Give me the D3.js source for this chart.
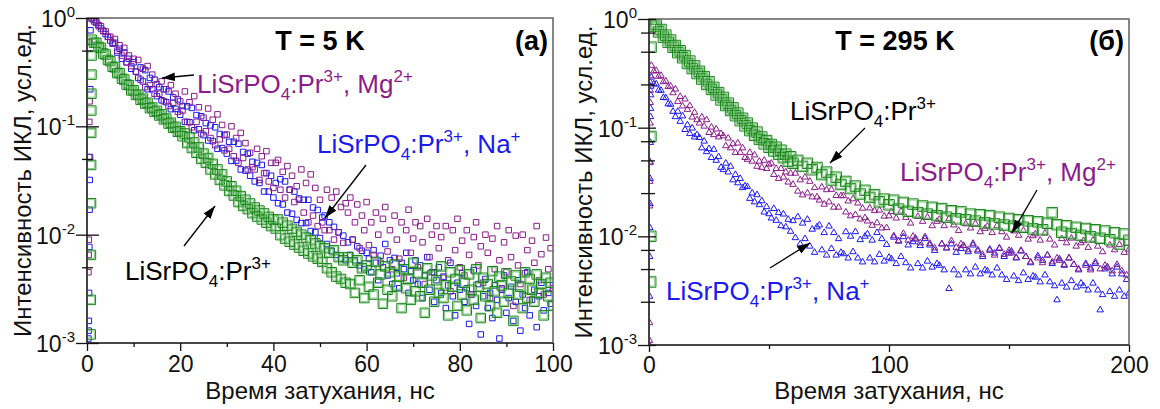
<!DOCTYPE html>
<html><head><meta charset="utf-8">
<script src="https://cdn.jsdelivr.net/npm/d3@7"></script>
<style>body{margin:0;background:#fff}svg{display:block}text{font-family:"Liberation Sans",Arial,sans-serif}</style>
</head><body>
<svg id="c" width="1160" height="409"></svg>
<script>
// ---------------- DATA ----------------
// sample start times and channel widths (ns)
const start5K = 1, step5K = 0.5;               // all series at 5 K
const start295Fine = 1, step295Fine = 1;       // Na+, Mg2+ at 295 K
const start295Early = 1, step295Early = 1;     // undoped at 295 K, 1-60 ns
const start295Late = 62, step295Late = 2;      // undoped at 295 K, 62-200 ns

// T = 5 K
const mg5K = [
0.98,0.93,0.93,0.84,0.84,0.76,0.75,0.67,0.67,0.59,
0.64,0.5,0.56,0.45,0.53,0.39,0.45,0.36,0.42,0.32,
0.41,0.27,0.34,0.23,0.36,0.24,0.3,0.2,0.245,0.2,
0.26,0.17,0.22,0.154,0.24,0.165,0.2,0.136,0.17,0.14,
0.21,0.11,0.167,0.098,0.19,0.11,0.15,0.086,0.12,0.09,
0.146,0.078,0.115,0.067,0.129,0.076,0.103,0.06,0.084,0.062,
0.1,0.053,0.078,0.046,0.087,0.051,0.07,0.04,0.057,0.042,
0.04,0.062,0.032,0.053,0.037,0.059,0.031,0.046,0.027,0.046,
0.049,0.026,0.038,0.022,0.043,0.026,0.035,0.02,0.028,0.021,
0.04,0.016,0.03,0.013,0.036,0.015,0.027,0.012,0.021,0.013,
0.011,0.026,0.011,0.022,0.009,0.025,0.0105,0.018,0.0084,0.0195,
0.016,0.022,0.009,0.013,0.019,0.0075,0.015,0.011,0.02,0.008,
0.013,0.0065,0.016,0.01,0.0055,0.014,0.018,0.007,0.011,0.0048,
0.015,0.009,0.006,0.013,0.004,0.011,0.017,0.0068,0.0092,0.013,
0.005,0.012,0.0085,0.0035,0.014,0.0062,0.01,0.0045,0.012,0.0075,
0.0095,0.004,0.012,0.0058,0.003,0.011,0.0072,0.014,0.005,0.0088,
0.0042,0.011,0.0065,0.0028,0.0095,0.013,0.0052,0.0078,0.0036,0.01,
0.0068,0.0026,0.0092,0.0048,0.012,0.0058,0.0032,0.0085,0.0045,0.011,
0.0062,0.0022,0.0098,0.0052,0.0035,0.01,0.0044,0.0072,0.0025,0.0088,
0.0055,0.012,0.0038,0.0066,0.0028,0.0094,0.0048,0.0075,0.0032];
const na5K = [
1.0,0.96,0.9,0.86,0.8,0.76,0.71,0.67,0.62,0.58,
0.59,0.48,0.52,0.42,0.48,0.39,0.42,0.34,0.39,0.32,
0.28,0.35,0.26,0.33,0.22,0.28,0.22,0.27,0.19,0.23,
0.174,0.22,0.167,0.21,0.144,0.185,0.145,0.177,0.128,0.154,
0.11,0.153,0.109,0.148,0.092,0.127,0.094,0.124,0.083,0.107,
0.074,0.102,0.073,0.098,0.062,0.085,0.063,0.083,0.056,0.072,
0.048,0.072,0.048,0.069,0.04,0.058,0.039,0.056,0.035,0.047,
0.031,0.046,0.03,0.044,0.025,0.037,0.025,0.035,0.022,0.03,
0.0195,0.0325,0.019,0.031,0.016,0.026,0.0156,0.025,0.0137,0.0216,
0.0128,0.021,0.0128,0.021,0.0108,0.0178,0.0105,0.0169,0.0093,0.0144,
0.015,0.0082,0.013,0.0071,0.0118,0.0065,0.0105,0.006,0.0098,0.0058,
0.0085,0.0065,0.009,0.0058,0.0078,0.0052,0.0071,0.0048,0.0068,0.006,
0.0045,0.0072,0.0055,0.0038,0.0064,0.005,0.0082,0.0042,0.0058,0.0035,
0.0061,0.0044,0.0032,0.0055,0.0048,0.0068,0.0029,0.0046,0.0038,0.0058,
0.0035,0.0052,0.0026,0.0042,0.0062,0.0031,0.0045,0.0024,0.0038,0.005,
0.0029,0.0041,0.0021,0.0034,0.0055,0.0027,0.0018,0.0036,0.0031,0.0044,
0.0024,0.0032,0.0015,0.0028,0.0047,0.0022,0.0035,0.0012,0.0027,0.0039,
0.0021,0.0029,0.0017,0.0034,0.0025,0.0011,0.0031,0.0042,0.0019,0.0026,
0.0033,0.0016,0.0024,0.0038,0.0013,0.0028,0.0021,0.0045,0.0018,0.0025,
0.0031,0.0014,0.0027,0.0036,0.002,0.0009,0.0029,0.0023,0.0034];
const pr5K = [
0.63,0.59,0.59,0.54,0.53,0.47,0.46,0.41,0.4,0.355,
0.35,0.31,0.31,0.275,0.27,0.243,0.24,0.215,0.215,0.195,
0.196,0.176,0.18,0.162,0.165,0.147,0.149,0.136,0.139,0.126,
0.129,0.116,0.118,0.106,0.108,0.097,0.099,0.089,0.09,0.081,
0.086,0.07,0.079,0.063,0.071,0.057,0.064,0.05,0.056,0.046,
0.051,0.04,0.045,0.036,0.04,0.032,0.036,0.0285,0.031,0.0253,
0.028,0.023,0.0254,0.02,0.0227,0.0184,0.021,0.0172,0.0194,0.0158,
0.0178,0.0147,0.0167,0.0138,0.0157,0.0129,0.0146,0.012,0.0138,0.0114,
0.0138,0.0099,0.0129,0.0092,0.0121,0.0086,0.0113,0.0081,0.0106,0.0076,
0.01,0.0071,0.0094,0.0067,0.0089,0.0063,0.0083,0.006,0.0078,0.0056,
0.0075,0.0049,0.0068,0.0045,0.0072,0.0041,0.0062,0.0039,0.0058,0.0036,
0.0062,0.0035,0.0055,0.0029,0.0058,0.0038,0.0049,0.0026,0.0052,0.0033,
0.0047,0.0028,0.0056,0.0036,0.0043,0.0023,0.0051,0.0031,0.0045,0.0027,
0.0053,0.0034,0.0041,0.0021,0.0048,0.0032,0.0039,0.0025,0.0055,0.003,
0.0044,0.0027,0.0036,0.0019,0.0049,0.0031,0.0042,0.0024,0.0038,0.0029,
0.0051,0.0026,0.0034,0.0018,0.0045,0.0033,0.0039,0.0022,0.0047,0.0028,
0.0036,0.002,0.0043,0.0031,0.0025,0.0048,0.0033,0.0017,0.004,0.0027,
0.0035,0.0022,0.0046,0.003,0.0019,0.0041,0.0034,0.0024,0.0044,0.0029,
0.0037,0.0016,0.0042,0.0028,0.0033,0.0021,0.0045,0.0026,0.0039,0.0031,
0.0024,0.0043,0.0029,0.0035,0.0018,0.004,0.0027,0.0036,0.0022];
// rising edge points at 5 K
const riseTimeNa5K = [0.3,0.35,0.4,0.45,0.5,0.55,0.6,0.65,0.7,0.75];
const riseNa5K     = [0.0011,0.0013,0.0016,0.0029,0.0077,0.017,0.032,0.052,0.22,0.77];
const riseTimeMg5K = [0.3,0.35,0.4,0.45,0.5,0.55,0.6];
const riseMg5K     = [0.0045,0.0065,0.009,0.052,0.11,0.17,0.6];
const riseTimePr5K = [0.8,0.82,0.84,0.86,0.88,0.9,0.92,0.94,0.96,0.98];
const risePr5K     = [0.0012,0.0025,0.0065,0.0195,0.044,0.087,0.14,0.2,0.3,0.45];

// T = 295 K
const mg295K = [
0.374,0.331,0.335,0.296,0.302,0.264,0.268,0.238,0.241,0.209,
0.226,0.174,0.193,0.158,0.183,0.147,0.159,0.125,0.138,0.118,
0.11,0.125,0.103,0.118,0.09,0.101,0.086,0.097,0.082,0.088,
0.084,0.068,0.08,0.065,0.071,0.059,0.072,0.059,0.065,0.053,
0.051,0.059,0.049,0.056,0.044,0.049,0.043,0.05,0.042,0.046,
0.047,0.037,0.042,0.034,0.042,0.035,0.039,0.0315,0.038,0.03,
0.038,0.026,0.033,0.024,0.035,0.025,0.032,0.023,0.028,0.023,
0.0215,0.0284,0.0197,0.0268,0.0207,0.027,0.0185,0.0237,0.0185,0.0236,
0.0236,0.0167,0.0211,0.0154,0.0221,0.0158,0.0202,0.0144,0.0181,0.0148,
0.0138,0.0182,0.0126,0.0172,0.0133,0.0174,0.0119,0.0153,0.012,0.0154,
0.0169,0.0101,0.0147,0.0091,0.017,0.0106,0.0149,0.0092,0.0132,0.01,
0.0096,0.0152,0.0087,0.0137,0.0099,0.015,0.0086,0.0125,0.0078,0.0137,
0.0143,0.0085,0.0125,0.0078,0.0145,0.0091,0.0127,0.0079,0.0113,0.0085,
0.0082,0.013,0.0075,0.0119,0.0086,0.0131,0.0075,0.011,0.0068,0.0118,
0.0124,0.0074,0.0108,0.0067,0.0125,0.0078,0.011,0.0068,0.0098,0.0074,
0.007,0.0112,0.0064,0.0102,0.0074,0.0113,0.0065,0.0094,0.0058,0.0101,
0.0105,0.0063,0.0092,0.0057,0.0107,0.0067,0.0094,0.0058,0.0083,0.0063,
0.006,0.0095,0.0055,0.0087,0.0063,0.0096,0.0055,0.0081,0.005,0.0087,
0.0091,0.0054,0.0079,0.0049,0.0092,0.0058,0.0081,0.005,0.0072,0.0054,
0.0052,0.0083,0.0048,0.0075,0.0055,0.0084,0.0048,0.0071,0.0044,0.0076];
const na295K = [
0.291,0.252,0.252,0.221,0.22,0.189,0.188,0.165,0.164,0.141,
0.126,0.141,0.114,0.128,0.096,0.106,0.088,0.099,0.082,0.086,
0.081,0.065,0.075,0.06,0.064,0.053,0.063,0.05,0.054,0.043,
0.041,0.047,0.039,0.044,0.033,0.037,0.031,0.034,0.028,0.029,
0.0286,0.0223,0.025,0.0207,0.0241,0.0195,0.0212,0.0167,0.0187,0.0161,
0.0147,0.018,0.014,0.0165,0.0125,0.016,0.0122,0.0143,0.0111,0.0139,
0.0097,0.0151,0.0085,0.0132,0.0095,0.0143,0.0081,0.0116,0.0071,0.0122,
0.0127,0.0075,0.0108,0.0067,0.0124,0.0077,0.0108,0.0067,0.0095,0.0071,
0.0069,0.011,0.0063,0.01,0.0072,0.011,0.0063,0.0093,0.0058,0.01,
0.0105,0.0063,0.0092,0.0058,0.0108,0.0068,0.0095,0.0059,0.0084,0.0064,
0.0062,0.0098,0.0056,0.009,0.0065,0.0099,0.0057,0.0083,0.0051,0.0089,
0.0094,0.0056,0.0082,0.0051,0.0095,0.0059,0.0083,0.0052,0.0074,0.0056,
0.0054,0.0085,0.0049,0.0078,0.0033,0.0085,0.0049,0.0071,0.0044,0.0077,
0.0082,0.0049,0.0072,0.0045,0.0083,0.0052,0.0073,0.0045,0.0065,0.0049,
0.0048,0.0076,0.0044,0.007,0.0051,0.0077,0.0044,0.0065,0.004,0.007,
0.0073,0.0043,0.0063,0.0039,0.0073,0.0046,0.0065,0.004,0.0057,0.0043,
0.0042,0.0066,0.0038,0.006,0.0044,0.0067,0.0038,0.0056,0.0035,0.0026,
0.0062,0.0037,0.0054,0.0034,0.0063,0.0039,0.0055,0.0034,0.0049,0.0037,
0.0035,0.0056,0.0032,0.0051,0.0037,0.0056,0.0032,0.0021,0.0029,0.005,
0.0052,0.0031,0.0045,0.0028,0.0052,0.0032,0.0045,0.0028,0.004,0.003];
const pr295KEarly = [
1.0,0.86,0.89,0.76,0.8,0.68,0.71,0.61,0.64,0.55,
0.57,0.49,0.51,0.44,0.46,0.39,0.41,0.35,0.37,0.315,
0.33,0.28,0.295,0.25,0.265,0.225,0.235,0.2,0.21,0.18,
0.19,0.16,0.168,0.144,0.152,0.129,0.136,0.116,0.122,0.104,
0.11,0.094,0.099,0.085,0.091,0.078,0.082,0.071,0.076,0.066,
0.07,0.061,0.066,0.057,0.062,0.053,0.057,0.049,0.054,0.047];
const pr295KLate = [
0.05,0.044,0.047,0.041,0.043,0.037,0.039,0.033,0.035,0.03,
0.032,0.0275,0.029,0.0245,0.0265,0.0228,0.0242,0.0208,0.022,0.0195,
0.0215,0.0178,0.0205,0.017,0.0198,0.0165,0.019,0.016,0.0185,0.0155,
0.018,0.015,0.0172,0.0145,0.0168,0.0142,0.016,0.0138,0.0158,0.0133,
0.0155,0.013,0.015,0.0127,0.0146,0.0124,0.0142,0.0121,0.0139,0.0117,
0.0136,0.0115,0.0132,0.0165,0.0128,0.0109,0.0125,0.0106,0.0121,0.0102,
0.0118,0.0099,0.0115,0.0096,0.0112,0.0093,0.0108,0.0085,0.0105,0.0092];
// rising edge points at 295 K
const riseTimeNa295K = [0.2,0.25,0.3,0.35,0.4,0.45,0.5,0.55,0.6,0.65,0.7,0.75];
const riseNa295K     = [0.001,0.0028,0.0065,0.012,0.02,0.034,0.048,0.073,0.126,0.15,0.2,0.24];
const riseTimeMg295K = [0.2,0.25,0.3,0.35,0.4,0.45,0.5,0.55,0.6,0.65];
const riseMg295K     = [0.0011,0.0016,0.019,0.032,0.048,0.11,0.17,0.22,0.26,0.3];
const riseTimePr295K = [0.7,0.75,0.8,0.85];
const risePr295K     = [0.0038,0.01,0.083,0.55];

// ticks
const yMajor = [1, 0.1, 0.01, 0.001];
const yMajorExp = ["0", "-1", "-2", "-3"];
const yMinor5K = [0.5, 0.05, 0.005];
const yMinor295K = [0.75, 0.5, 0.25, 0.075, 0.05, 0.025, 0.0075, 0.005, 0.0025];
const xMajor5K = [0, 20, 40, 60, 80, 100];
const xMinor5K = [10, 30, 50, 70, 90];
const xMajor295K = [0, 100, 200];
const xMinor295K = [50, 150];

// ---------------- DRAWING ----------------
const svg = d3.select('#c');
const C = { na: '#1a1aee', mg: '#8b1c8b', prDark: '#188418', prLight: '#62bd62' };

const defs = svg.append('defs');
defs.append('marker').attr('id', 'ah').attr('viewBox', '0 0 12 8').attr('refX', 12).attr('refY', 4)
  .attr('markerWidth', 13).attr('markerHeight', 9).attr('markerUnits', 'userSpaceOnUse').attr('orient', 'auto')
  .append('path').attr('d', 'M0,0 L12,4 L0,8 z').attr('fill', '#000');

const series = (start, step, vals) => vals.map((v, i) => ({ t: start + i * step, v }));
const pairs = (ts, vals) => vals.map((v, i) => ({ t: ts[i], v }));

function panel(cfg) {
  const g = svg.append('g');
  const x = d3.scaleLinear().domain(cfg.xDomain).range([cfg.x0, cfg.x1]);
  const y = d3.scaleLog().domain([1e-3, 1]).range([cfg.y1, cfg.y0]);
  const clipId = 'clip' + cfg.id;
  defs.append('clipPath').attr('id', clipId).append('rect')
    .attr('x', cfg.x0).attr('y', cfg.y0).attr('width', cfg.x1 - cfg.x0).attr('height', cfg.y1 - cfg.y0);
  const plot = g.append('g').attr('clip-path', `url(#${clipId})`);

  cfg.layers.forEach(L => {
    const pts = L.data.filter(d => d.v > 0);
    const sym = d3.symbol().type(L.shape === 'tri' ? d3.symbolTriangle : d3.symbolSquare)
      .size(L.shape === 'tri' ? L.size * L.size * Math.sqrt(3) / 4 : L.size * L.size);
    const gg = plot.append('g');
    pts.forEach(d => {
      const tr = `translate(${x(d.t)},${y(d.v)})`;
      gg.append('path').attr('d', sym).attr('transform', tr)
        .attr('fill', 'none').attr('stroke', L.color).attr('stroke-width', L.sw || 1);
      if (L.inner) {
        gg.append('path').attr('d', d3.symbol().type(d3.symbolSquare).size((L.size - 2.4) * (L.size - 2.4)))
          .attr('transform', tr).attr('fill', 'none').attr('stroke', L.inner).attr('stroke-width', 0.8);
      }
    });
  });

  // frame
  g.append('rect').attr('x', cfg.x0).attr('y', cfg.y0).attr('width', cfg.x1 - cfg.x0).attr('height', cfg.y1 - cfg.y0)
    .attr('fill', 'none').attr('stroke', '#6a6a6a').attr('stroke-width', 1.6);
  g.append('line').attr('x1', cfg.x0).attr('x2', cfg.x0).attr('y1', cfg.y0).attr('y2', cfg.y1).attr('stroke', '#333').attr('stroke-width', 1.6);
  g.append('line').attr('x1', cfg.x0).attr('x2', cfg.x1).attr('y1', cfg.y1).attr('y2', cfg.y1).attr('stroke', '#333').attr('stroke-width', 1.6);

  // y ticks
  const yt = (vals, outL, inL) => {
    const a = g.append('g').attr('transform', `translate(${cfg.x0},0)`)
      .call(d3.axisLeft(y).tickValues(vals).tickSize(outL).tickFormat(''));
    a.select('.domain').remove();
    a.selectAll('.tick line').attr('x1', inL).attr('stroke', '#111').attr('stroke-width', 1.3);
  };
  yt(yMajor, cfg.yMajOut, cfg.yMajIn);
  yt(cfg.yMinor, cfg.yMinOut, cfg.yMinIn);
  yMajor.forEach((v, i) => {
    const t = g.append('text').attr('x', cfg.x0 - cfg.yMajOut - 1).attr('y', y(v) + 9)
      .attr('text-anchor', 'end').attr('font-size', 23).attr('fill', '#111');
    t.append('tspan').text('10');
    t.append('tspan').text(yMajorExp[i]).attr('font-size', 15).attr('dy', -10);
  });

  // x ticks
  const ax = g.append('g').attr('transform', `translate(0,${cfg.y1})`)
    .call(d3.axisBottom(x).tickValues(cfg.xMajor).tickSize(cfg.xMajLen).tickPadding(5).tickFormat(d3.format('d')));
  ax.select('.domain').remove();
  ax.selectAll('.tick line').attr('stroke', '#111').attr('stroke-width', 1.3);
  ax.selectAll('.tick text').attr('font-size', 23).attr('fill', '#111').attr('font-family', '"Liberation Sans",Arial,sans-serif');
  const axm = g.append('g').attr('transform', `translate(0,${cfg.y1})`)
    .call(d3.axisBottom(x).tickValues(cfg.xMinor).tickSize(cfg.xMinLen).tickFormat(''));
  axm.select('.domain').remove();
  axm.selectAll('.tick line').attr('stroke', '#111').attr('stroke-width', 1.3);

  // axis titles
  g.append('text').attr('x', (cfg.x0 + cfg.x1) / 2).attr('y', 399).attr('text-anchor', 'middle')
    .attr('font-size', 24).attr('fill', '#111').text('Время затухания, нс');
  g.append('text').attr('transform', `translate(${cfg.yTitleX},${(cfg.y0 + cfg.y1) / 2}) rotate(-90)`)
    .attr('text-anchor', 'middle').attr('font-size', 24).attr('fill', '#111').text('Интенсивность ИКЛ, усл.ед.');

  // title & panel letter
  g.append('text').attr('x', cfg.titleX).attr('y', 50).attr('text-anchor', 'middle').attr('font-size', 27)
    .attr('font-weight', 'bold').attr('fill', '#000').text(cfg.title);
  g.append('text').attr('x', cfg.x1 - 5).attr('y', 50).attr('text-anchor', 'end').attr('font-size', 27)
    .attr('font-weight', 'bold').attr('fill', '#000').text(cfg.letter);

  cfg.labels.forEach(lb => {
    const s = 26, ss = 17;
    const t = g.append('text').attr('x', lb.x).attr('y', lb.y).attr('fill', lb.color).attr('font-size', s);
    t.append('tspan').text('LiSrPO');
    t.append('tspan').text('4').attr('font-size', ss).attr('dy', 7);
    t.append('tspan').text(':Pr').attr('dy', -7);
    t.append('tspan').text('3+').attr('font-size', ss).attr('dy', -11);
    if (lb.dop) {
      t.append('tspan').text(', ' + lb.dop).attr('dy', 11);
      t.append('tspan').text(lb.chg).attr('font-size', ss).attr('dy', -11);
    }
    g.append('line').attr('x1', lb.ax1).attr('y1', lb.ay1).attr('x2', lb.ax2).attr('y2', lb.ay2)
      .attr('stroke', '#000').attr('stroke-width', 1.3).attr('marker-end', 'url(#ah)');
  });
}

panel({
  id: 'a', x0: 87, x1: 553, y0: 18, y1: 343, xDomain: [0, 100],
  xMajor: xMajor5K, xMinor: xMinor5K, xMajLen: 8, xMinLen: 4,
  yMinor: yMinor5K, yMajOut: 11, yMajIn: 12, yMinOut: 5, yMinIn: 6,
  yTitleX: 31, titleX: 320, title: 'T = 5 K', letter: '(a)',
  layers: [
    { data: series(start5K, step5K, na5K).concat(pairs(riseTimeNa5K, riseNa5K)), shape: 'sq', size: 5.5, color: C.na },
    { data: series(start5K, step5K, mg5K).concat(pairs(riseTimeMg5K, riseMg5K)), shape: 'sq', size: 5.5, color: C.mg },
    { data: series(start5K, step5K, pr5K).concat(pairs(riseTimePr5K, risePr5K)), shape: 'sq', size: 9.5, color: C.prDark, inner: C.prLight }
  ],
  labels: [
    { x: 197, y: 93, color: C.mg, dop: 'Mg', chg: '2+', ax1: 194, ay1: 75, ax2: 162, ay2: 78 },
    { x: 317, y: 153, color: C.na, dop: 'Na', chg: '+', ax1: 366, ay1: 165, ax2: 325, ay2: 218 },
    { x: 125, y: 280, color: '#000', ax1: 184, ay1: 246, ax2: 215, ay2: 206 }
  ]
});

panel({
  id: 'b', x0: 649, x1: 1129, y0: 19, y1: 345, xDomain: [0, 200],
  xMajor: xMajor295K, xMinor: xMinor295K, xMajLen: 7, xMinLen: 4,
  yMinor: yMinor295K, yMajOut: 11, yMajIn: 7, yMinOut: 8, yMinIn: 6,
  yTitleX: 592, titleX: 895, title: 'T = 295 K', letter: '(б)',
  layers: [
    { data: series(start295Fine, step295Fine, na295K).concat(pairs(riseTimeNa295K, riseNa295K)), shape: 'tri', size: 6.5, color: C.na },
    { data: series(start295Fine, step295Fine, mg295K).concat(pairs(riseTimeMg295K, riseMg295K)), shape: 'tri', size: 6.5, color: C.mg },
    { data: series(start295Early, step295Early, pr295KEarly).concat(series(start295Late, step295Late, pr295KLate), pairs(riseTimePr295K, risePr295K)), shape: 'sq', size: 10.5, color: C.prDark, inner: C.prLight }
  ],
  labels: [
    { x: 790, y: 120, color: '#000', ax1: 865, ay1: 128, ax2: 830, ay2: 163 },
    { x: 900, y: 181, color: C.mg, dop: 'Mg', chg: '2+', ax1: 1037, ay1: 190, ax2: 1012, ay2: 233 },
    { x: 666, y: 300, color: C.na, dop: 'Na', chg: '+', ax1: 770, ay1: 268, ax2: 810, ay2: 243 }
  ]
});
</script>
</body></html>
